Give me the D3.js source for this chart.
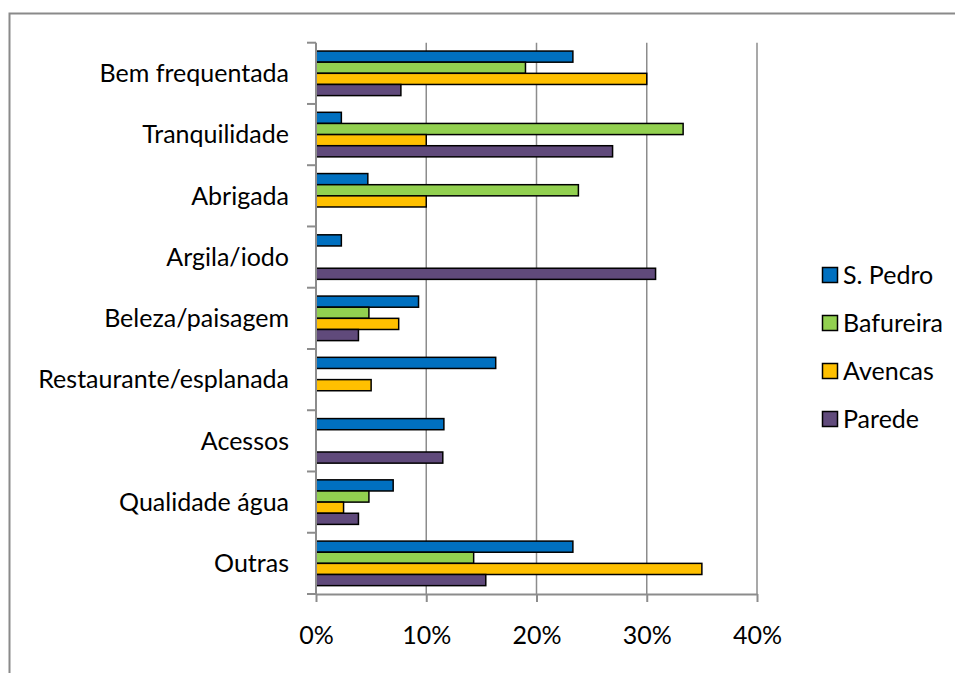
<!DOCTYPE html>
<html>
<head>
<meta charset="utf-8">
<script src="https://cdn.jsdelivr.net/npm/d3@7"></script>
<style>
    body { margin: 0; background: #fff; }
    svg text { font-family: Lato, "Open Sans", sans-serif; fill: #000; }
</style>
</head>
<body>
<script>
// data
const categories = ["Bem frequentada", "Tranquilidade", "Abrigada", "Argila/iodo", "Beleza/paisagem",
    "Restaurante/esplanada", "Acessos", "Qualidade água", "Outras"];
const seriesNames = ["S. Pedro", "Bafureira", "Avencas", "Parede"];
const sPedro    = [0.233, 0.023, 0.047, 0.023, 0.093, 0.163, 0.116, 0.070, 0.233];
const bafureira = [0.190, 0.333, 0.238, 0,     0.048, 0,     0,     0.048, 0.143];
const avencas   = [0.300, 0.100, 0.100, 0,     0.075, 0.050, 0,     0.025, 0.350];
const parede    = [0.077, 0.269, 0,     0.308, 0.0385, 0,    0.115, 0.0385, 0.154];
const xTicks = [0, 0.1, 0.2, 0.3, 0.4];
const colours = ["#0070C0", "#92D050", "#FFC000", "#604A7B"];

function renderChart() {

    const w = 955, h = 673;
    const fontSize = 25;
    const plot = {left: 316, right: 757, top: 42.7, bottom: 594};

    let svg = d3.select("body").append("svg")
        .attr("width", w)
        .attr("height", h);

    // chart area border (runs off the picture right and bottom)
    svg.append("rect")
        .attr("x", 9.5)
        .attr("y", 13.5)
        .attr("width", 1000)
        .attr("height", 1000)
        .attr("fill", "none")
        .attr("stroke", "#8a8a8a")
        .attr("stroke-width", 2);

    let x = d3.scaleLinear()
        .domain([0, 0.4])
        .range([plot.left, plot.right]);

    let y = d3.scaleBand()
        .domain(categories)
        .range([plot.top, plot.bottom]);

    let ySub = d3.scaleBand()
        .domain(seriesNames)
        .range([0, y.bandwidth()])
        .paddingInner(0)
        .paddingOuter(0.75);

    // gridlines
    svg.append("g")
        .attr("class", "grid")
        .selectAll("line")
        .data(xTicks.slice(1))
        .enter()
        .append("line")
        .attr("x1", d => x(d))
        .attr("x2", d => x(d))
        .attr("y1", plot.top)
        .attr("y2", plot.bottom)
        .attr("stroke", "#8c8c8c")
        .attr("stroke-width", 1.5);

    // bars
    const allSeries = [sPedro, bafureira, avencas, parede];
    let rows = [];
    allSeries.forEach(function (vals, s) {
        vals.forEach(function (v, i) {
            if (v > 0) rows.push({cat: categories[i], series: seriesNames[s], value: v, colour: colours[s]});
        });
    });

    svg.append("g")
        .attr("class", "bars")
        .selectAll("rect")
        .data(rows)
        .enter()
        .append("rect")
        .attr("x", x(0))
        .attr("y", d => y(d.cat) + ySub(d.series))
        .attr("width", d => x(d.value) - x(0))
        .attr("height", ySub.bandwidth())
        .attr("fill", d => d.colour)
        .attr("stroke", "#000")
        .attr("stroke-width", 1.5);

    // x axis
    let xAxis = svg.append("g")
        .attr("transform", "translate(0," + plot.bottom + ")")
        .call(d3.axisBottom(x)
            .tickValues(xTicks)
            .tickFormat(d3.format(".0%"))
            .tickSize(8)
            .tickSizeOuter(0)
            .tickPadding(24));
    xAxis.select(".domain").attr("stroke", "#8c8c8c").attr("stroke-width", 2);
    xAxis.selectAll(".tick line").attr("stroke", "#8c8c8c").attr("stroke-width", 2);
    xAxis.selectAll("text").style("font-size", fontSize + "px").attr("font-family", null);

    // y axis: line, ticks between categories, labels at centres
    let yAxis = svg.append("g").attr("class", "yaxis");
    yAxis.append("line")
        .attr("x1", plot.left).attr("x2", plot.left)
        .attr("y1", plot.top).attr("y2", plot.bottom)
        .attr("stroke", "#8c8c8c").attr("stroke-width", 2);

    let bounds = categories.map(c => y(c)).concat([plot.bottom]);
    yAxis.selectAll(".ytick")
        .data(bounds)
        .enter()
        .append("line")
        .attr("class", "ytick")
        .attr("x1", plot.left - 9).attr("x2", plot.left)
        .attr("y1", d => d).attr("y2", d => d)
        .attr("stroke", "#8c8c8c").attr("stroke-width", 2);

    yAxis.selectAll(".ylabel")
        .data(categories)
        .enter()
        .append("text")
        .attr("class", "ylabel")
        .attr("x", 289)
        .attr("y", d => y(d) + y.bandwidth() / 2)
        .attr("dy", "0.35em")
        .attr("text-anchor", "end")
        .style("font-size", fontSize + "px")
        .text(d => d);

    // legend
    let legend = svg.append("g")
        .attr("class", "legend")
        .selectAll("g")
        .data(seriesNames)
        .enter()
        .append("g")
        .attr("transform", (d, i) => "translate(822," + (275 + i * 48) + ")");

    legend.append("rect")
        .attr("x", 0.5)
        .attr("y", -7.5)
        .attr("width", 15)
        .attr("height", 15)
        .attr("fill", (d, i) => colours[i])
        .attr("stroke", "#000")
        .attr("stroke-width", 1.5);

    legend.append("text")
        .attr("x", 21)
        .attr("dy", "0.35em")
        .style("font-size", fontSize + "px")
        .text(d => d);
}

renderChart();
</script>
</body>
</html>
